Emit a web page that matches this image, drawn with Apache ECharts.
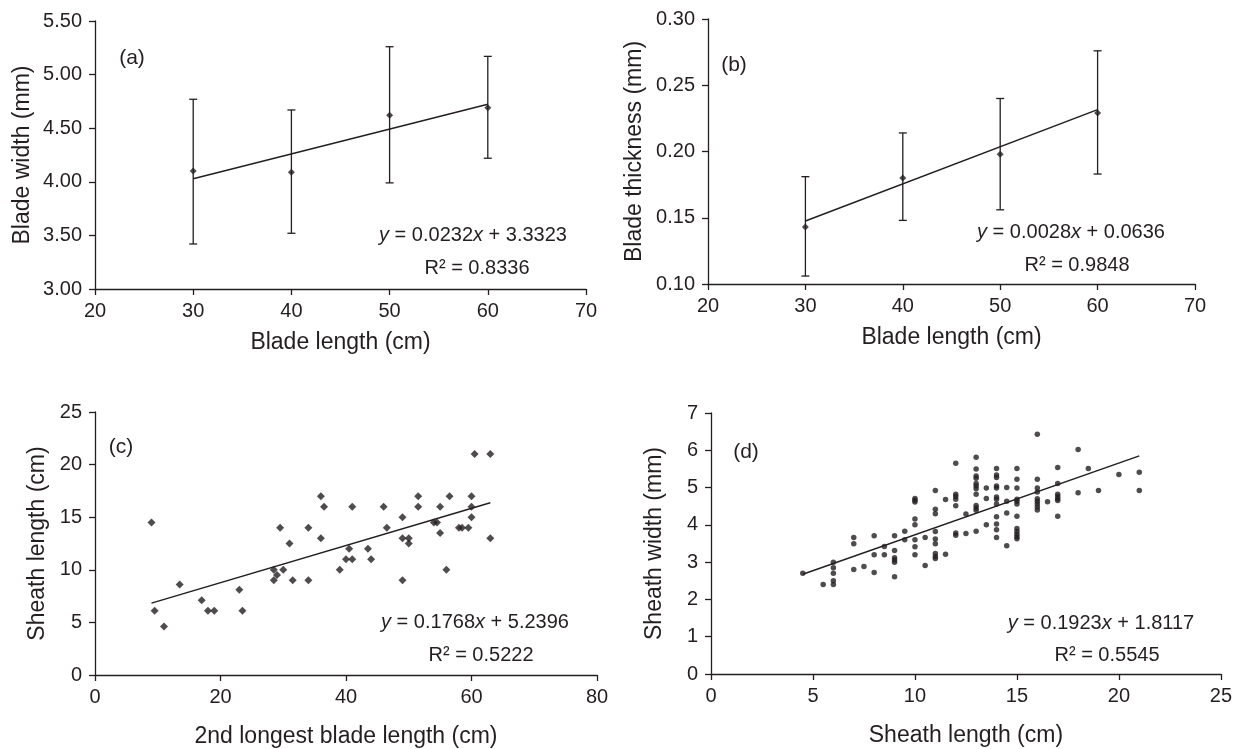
<!DOCTYPE html>
<html>
<head>
<meta charset="utf-8">
<script src="https://cdn.jsdelivr.net/npm/echarts@6/dist/echarts.min.js"></script>
<style>
  html, body { margin: 0; padding: 0; background: #ffffff; }
  #chart { width: 1235px; height: 749px; }
</style>
</head>
<body>
<div id="chart"></div>
<script>
// ---- (a) / (b): blade width and thickness by blade length class ----
const bladeLength = [30, 40, 50, 60];
const bladeWidthMean = [4.10, 4.09, 4.62, 4.69];
const bladeWidthLow = [3.42, 3.52, 3.99, 4.22];
const bladeWidthHigh = [4.77, 4.67, 5.26, 5.17];
const bladeThickMean = [0.143, 0.180, 0.198, 0.229];
const bladeThickLow = [0.106, 0.148, 0.156, 0.183];
const bladeThickHigh = [0.181, 0.214, 0.240, 0.276];

// ---- (c): sheath length vs 2nd longest blade length ----
const secondBladeLength = [
  9, 9.5, 11, 13.5, 17, 18, 19, 23, 23.5, 28.5,
  28.5, 29, 29.5, 30, 31, 31.5, 34, 34, 36, 36.5,
  36, 39, 40, 40.5, 41, 41, 43.5, 44, 46, 46.5,
  49, 49, 50, 50, 49, 51.5, 51.5, 54, 54.5, 55,
  55, 56, 56.5, 58, 58.5, 59.5, 60, 60, 60, 60.5,
  63, 63
];
const sheathLengthC = [
  14.5, 6.1, 4.6, 8.6, 7.1, 6.1, 6.1, 8.1, 6.1, 10,
  9, 9.5, 14, 10, 12.5, 9, 14, 9, 17, 16,
  13, 10, 11, 12, 11, 16, 12, 11, 16, 14,
  15, 13, 13, 12.5, 9, 17, 16, 14.5, 14.5, 16,
  13.5, 10, 17, 14, 14, 14, 17, 16, 15, 21,
  21, 13
];

// ---- (d): sheath width vs sheath length ----
const sheathLengthD = [
  4.5, 5.5,
  6, 6, 6, 6, 6,
  7, 7, 7, 7.5,
  8, 8, 8, 8.5, 8.5,
  9, 9, 9, 9, 9, 9, 9.5, 9.5,
  10, 10, 10, 10, 10, 10, 10, 10, 10.5, 10.5,
  11, 11, 11, 11, 11, 11, 11, 11, 11, 11.5, 11.5,
  12, 12, 12, 12, 12, 12, 12, 12.5, 12.5,
  13, 13, 13, 13, 13, 13, 13, 13, 13, 13, 13, 13,
  13.5, 13.5, 13.5,
  14, 14, 14, 14, 14, 14, 14, 14, 14, 14, 14, 14,
  14.5, 14.5, 14.5, 14.5,
  15, 15, 15, 15, 15, 15, 15, 15, 15, 15, 15, 15,
  16, 16, 16, 16, 16, 16, 16, 16, 16, 16.5,
  17, 17, 17, 17, 17, 17, 17,
  18, 18, 18.5, 19, 20, 21, 21
];
const sheathWidthD = [
  2.7, 2.4,
  3.0, 2.85, 2.7, 2.5, 2.4,
  3.66, 3.49, 2.8, 2.88,
  3.71, 3.2, 2.72, 3.42, 3.2,
  3.71, 3.31, 3.12, 3.06, 3.0, 2.61, 3.83, 3.6,
  4.71, 4.66, 4.61, 4.16, 4.0, 3.6, 3.41, 3.2, 3.66, 2.91,
  4.92, 4.42, 4.30, 3.82, 3.62, 3.49, 3.23, 3.15, 3.10, 4.68, 3.21,
  5.65, 4.82, 4.76, 4.69, 4.51, 3.78, 3.72, 4.29, 3.77,
  5.81, 5.50, 5.31, 5.25, 5.11, 5.04, 4.97, 4.82, 4.52, 4.45, 4.39, 3.83,
  4.99, 4.71, 4.0,
  5.51, 5.34, 5.27, 5.04, 4.99, 4.75, 4.69, 4.56, 4.22, 4.02, 3.87, 3.66,
  5.0, 4.63, 4.32, 3.44,
  5.51, 5.22, 4.99, 4.69, 4.63, 4.56, 4.23, 3.90, 3.82, 3.75, 3.68, 3.63,
  6.43, 5.22, 4.99, 4.88, 4.70, 4.63, 4.56, 4.48, 4.40, 4.62,
  5.54, 5.11, 4.82, 4.76, 4.70, 4.65, 4.23,
  6.02, 4.86, 5.51, 4.92, 5.35, 5.41, 4.92
];

// ---- fitted regression lines (slope, intercept, R squared) and x spans ----
const fitA = [0.0232, 3.3323, 0.8336];
const fitB = [0.0028, 0.0636, 0.9848];
const fitC = [0.1768, 5.2396, 0.5222];
const fitD = [0.1923, 1.8117, 0.5545];
const spanA = [30, 60];
const spanB = [30, 60];
const spanC = [9, 63];
const spanD = [4.5, 21];

// ---- axis ranges and tick steps ----
const xTicksAB = [20, 70, 10];
const yTicksA = [3.0, 5.5, 0.5];
const yTicksB = [0.10, 0.30, 0.05];
const xTicksC = [0, 80, 20];
const yTicksC = [0, 25, 5];
const xTicksD = [0, 25, 5];
const yTicksD = [0, 7, 1];

const INK = '#231f20';
const FONT = '"Liberation Sans", Arial, Helvetica, sans-serif';

const zip = (xs, ys) => xs.map((x, i) => [x, ys[i]]);
const fitLine = (fit, span) => span.map(x => [x, fit[0] * x + fit[1]]);

function xAxis(gridIndex, ticks, name, nameGap) {
  return {
    type: 'value', gridIndex, min: ticks[0], max: ticks[1], interval: ticks[2],
    name, nameLocation: 'middle', nameGap,
    nameTextStyle: { fontFamily: FONT, fontSize: 23, color: INK },
    axisLine: { show: true, onZero: false, lineStyle: { color: INK, width: 1.3 } },
    axisTick: { show: true, inside: false, length: 6, lineStyle: { color: INK, width: 1.3 } },
    axisLabel: { fontFamily: FONT, fontSize: 20, color: INK, margin: 12 },
    splitLine: { show: false }
  };
}
function yAxis(gridIndex, ticks, name, nameGap, decimals) {
  return {
    type: 'value', gridIndex, min: ticks[0], max: ticks[1], interval: ticks[2],
    name, nameLocation: 'middle', nameGap,
    nameTextStyle: { fontFamily: FONT, fontSize: 23, color: INK },
    axisLine: { show: true, onZero: false, lineStyle: { color: INK, width: 1.3 } },
    axisTick: { show: true, inside: false, length: 6, lineStyle: { color: INK, width: 1.3 } },
    axisLabel: {
      fontFamily: FONT, fontSize: 20, color: INK, margin: 13,
      formatter: v => decimals ? v.toFixed(decimals) : String(v)
    },
    splitLine: { show: false }
  };
}

function errorBars(idx, xs, lows, highs) {
  return {
    type: 'custom', xAxisIndex: idx, yAxisIndex: idx, silent: true, z: 3,
    data: xs.map((x, i) => [x, lows[i], highs[i]]),
    renderItem(params, api) {
      const lo = api.coord([api.value(0), api.value(1)]);
      const hi = api.coord([api.value(0), api.value(2)]);
      const cap = 4;
      const style = { stroke: INK, lineWidth: 1.3 };
      return {
        type: 'group',
        children: [
          { type: 'line', shape: { x1: lo[0], y1: lo[1], x2: hi[0], y2: hi[1] }, style },
          { type: 'line', shape: { x1: hi[0] - cap, y1: hi[1], x2: hi[0] + cap, y2: hi[1] }, style },
          { type: 'line', shape: { x1: lo[0] - cap, y1: lo[1], x2: lo[0] + cap, y2: lo[1] }, style }
        ]
      };
    }
  };
}
function points(idx, data, symbol, size) {
  return {
    type: 'scatter', xAxisIndex: idx, yAxisIndex: idx, data, symbol, symbolSize: size,
    itemStyle: { color: INK }, silent: true, z: 4
  };
}
function trend(idx, fit, span) {
  return {
    type: 'line', xAxisIndex: idx, yAxisIndex: idx, data: fitLine(fit, span),
    symbol: 'none', lineStyle: { color: INK, width: 1.5 }, silent: true, z: 2
  };
}

function fmtFit(fit, digits) {
  return '{i|y} = ' + fit[0].toFixed(4) + '{i|x} + ' + fit[1].toFixed(4);
}
function textAt(x, y, text, size, rich) {
  return {
    type: 'text', x, y, silent: true,
    style: {
      text, fill: INK, fontFamily: FONT, fontSize: size,
      align: 'center', verticalAlign: 'middle',
      rich: rich || {}
    }
  };
}
const italic = { i: { fontStyle: 'italic', fontFamily: FONT, fontSize: 20, fill: INK } };

const chart = echarts.init(document.getElementById('chart'), null, { renderer: 'canvas' });
chart.setOption({
  animation: false,
  backgroundColor: '#ffffff',
  grid: [
    { left: 95, top: 21, width: 491, height: 268 },
    { left: 708, top: 19, width: 487, height: 265 },
    { left: 95, top: 412, width: 502, height: 263 },
    { left: 711, top: 413, width: 515, height: 261 }
  ],
  xAxis: [
    xAxis(0, xTicksAB, 'Blade length (cm)', 42),
    xAxis(1, xTicksAB, 'Blade length (cm)', 42),
    xAxis(2, xTicksC, '2nd longest blade length (cm)', 50),
    xAxis(3, xTicksD, 'Sheath length (cm)', 50)
  ],
  yAxis: [
    yAxis(0, yTicksA, 'Blade width (mm)', 61, 2),
    yAxis(1, yTicksB, 'Blade thickness (mm)', 62, 2),
    yAxis(2, yTicksC, 'Sheath length (cm)', 46, 0),
    yAxis(3, yTicksD, 'Sheath width (mm)', 45, 0)
  ],
  series: [
    trend(0, fitA, spanA),
    errorBars(0, bladeLength, bladeWidthLow, bladeWidthHigh),
    points(0, zip(bladeLength, bladeWidthMean), 'diamond', 7),
    trend(1, fitB, spanB),
    errorBars(1, bladeLength, bladeThickLow, bladeThickHigh),
    points(1, zip(bladeLength, bladeThickMean), 'diamond', 7),
    trend(2, fitC, spanC),
    points(2, zip(secondBladeLength, sheathLengthC), 'diamond', 8),
    trend(3, fitD, spanD),
    points(3, zip(sheathLengthD, sheathWidthD), 'circle', 5.5)
  ],
  graphic: [
    textAt(132, 58, '(a)', 21),
    textAt(734, 65, '(b)', 21),
    textAt(121, 447, '(c)', 21),
    textAt(746, 452, '(d)', 21),
    textAt(473, 235, fmtFit(fitA), 20, italic),
    textAt(477, 268, 'R² = ' + fitA[2].toFixed(4), 20),
    textAt(1071, 232, fmtFit(fitB), 20, italic),
    textAt(1077, 265, 'R² = ' + fitB[2].toFixed(4), 20),
    textAt(475, 622, fmtFit(fitC), 20, italic),
    textAt(481, 655, 'R² = ' + fitC[2].toFixed(4), 20),
    textAt(1101, 623, fmtFit(fitD), 20, italic),
    textAt(1107, 655, 'R² = ' + fitD[2].toFixed(4), 20)
  ]
});
</script>
</body>
</html>
